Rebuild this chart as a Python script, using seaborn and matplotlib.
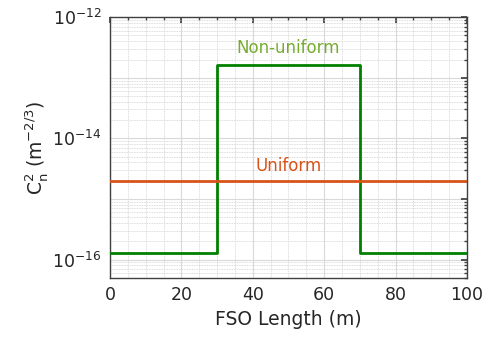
import numpy as np
import pandas as pd
import seaborn as sns
import matplotlib
matplotlib.use("Agg")
import matplotlib.pyplot as plt
from matplotlib.ticker import LogLocator, FuncFormatter, MultipleLocator, NullFormatter, FixedLocator

# Data
length_nonuniform = [0, 30, 70, 100]
cn2_nonuniform = [1.3e-16, 1.6e-13, 1.3e-16, 1.3e-16]
length_uniform = [0, 100]
cn2_uniform = [2.0e-15, 2.0e-15]
labels = ["Non-uniform", "Uniform"]
x_ticks = [0, 20, 40, 60, 80, 100]
y_decades = [1e-16, 1e-15, 1e-14, 1e-13, 1e-12]

sns.set_theme(style="white")
plt.rcParams['font.family'] = ['DejaVu Sans']

fig = plt.figure(figsize=(4.9, 3.43), dpi=100)
ax = fig.add_axes([0.2245, 0.19, 0.7285, 0.76])

green = "#008000"
orange = "#D95319"
sns.lineplot(x=length_nonuniform, y=cn2_nonuniform, ax=ax, color=green, lw=2.0,
             drawstyle="steps-post", zorder=3)
sns.lineplot(x=length_uniform, y=cn2_uniform, ax=ax, color=orange, lw=2.0, zorder=3)

ax.set_yscale("log")
ax.set_xlim(0, 100)
ax.set_ylim(5e-17, 1e-12)

ax.set_xticks(x_ticks)
ax.xaxis.set_minor_locator(MultipleLocator(5))
ax.yaxis.set_major_locator(FixedLocator(y_decades))
ax.yaxis.set_minor_locator(LogLocator(base=10, subs=np.arange(2, 10), numticks=50))
ax.yaxis.set_minor_formatter(NullFormatter())

def fmt(v, pos):
    e = int(round(np.log10(v)))
    if e % 2 == 0:
        return r"$10^{%d}$" % e
    return ""
ax.yaxis.set_major_formatter(FuncFormatter(fmt))

ax.grid(which="major", color="#d9d9d9", lw=0.8, ls="-", zorder=0)
ax.grid(which="minor", color="#d0d0d0", lw=0.6, ls=(0, (1, 1)), zorder=0)
ax.set_axisbelow(True)

for s in ax.spines.values():
    s.set_color("#404040")
    s.set_linewidth(1.0)

ax.tick_params(which="both", direction="in", top=True, right=True, color="#404040",
               labelsize=12.5, labelcolor="#262626", pad=6)
ax.tick_params(which="major", length=4)
ax.tick_params(which="minor", length=2)

ax.set_xlabel("FSO Length (m)", fontsize=13.5, color="#262626", labelpad=4)
ax.set_ylabel(r"C$_\mathrm{n}^2$ (m$^{-2/3}$)", fontsize=13.5, color="#262626", labelpad=2)

ax.text(50, 2.2e-13, labels[0], color="#77AC30", fontsize=12, ha="center", va="bottom")
ax.text(50, 2.5e-15, labels[1], color=orange, fontsize=12, ha="center", va="bottom")

fig.savefig("out.png", dpi=100, facecolor="white")
